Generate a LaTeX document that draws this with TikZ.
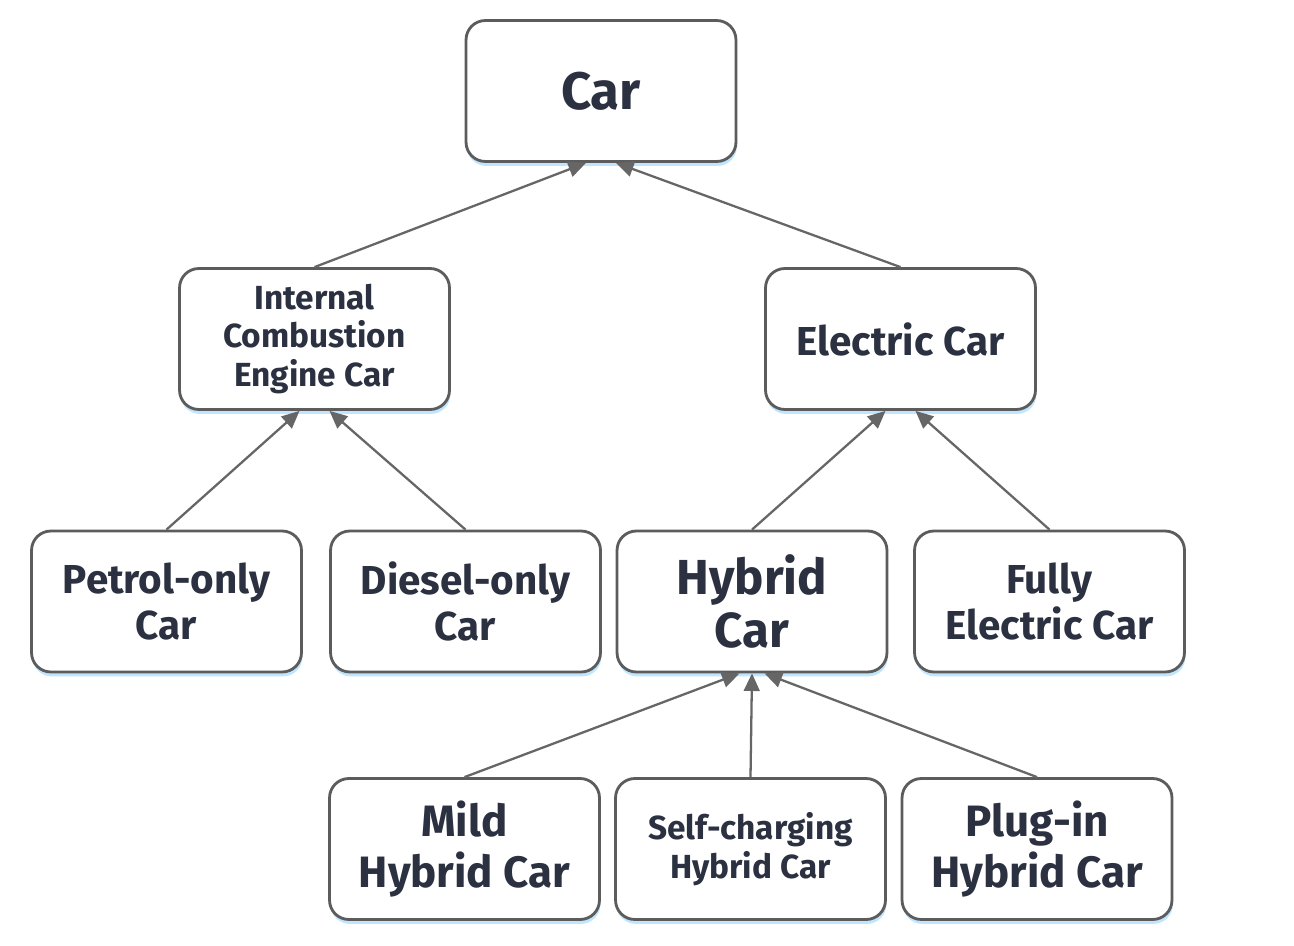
\documentclass[tikz,border=0pt]{standalone}
\usepackage{fontspec}
\setmainfont{Fira Sans}
\usetikzlibrary{arrows.meta,shadows}
\definecolor{txt}{HTML}{2B3140}
\definecolor{edge}{HTML}{666666}
\tikzset{
  box/.style={draw=edge!90!black, line width=1.6pt, rounded corners=11pt, fill=white,
    minimum width=5.4cm, minimum height=2.82cm, align=center, text=txt,
    font=\bfseries, inner sep=2pt,
    drop shadow={shadow xshift=0.5pt, shadow yshift=-2.5pt, fill=blue!40!cyan, opacity=0.25}},
  link/.style={draw=edge, line width=1.3pt, -{Triangle[length=10pt,width=9pt]}}
}
\begin{document}
\begin{tikzpicture}[x=0.02cm, y=-0.02cm]
  \useasboundingbox (0,0) rectangle (1294,946);
  % top level
  \node[box, font=\bfseries\fontsize{30}{34}\selectfont] (car) at (601,91) {Car};
  % second level
  \node[box, font=\bfseries\fontsize{19}{22}\selectfont] (ice) at (314.5,339) {Internal\\Combustion\\Engine Car};
  \node[box, font=\bfseries\fontsize{23}{27}\selectfont] (elec) at (900.5,339) {Electric Car};
  % third level
  \node[box, font=\bfseries\fontsize{23}{26}\selectfont] (petrol) at (166.5,601.5) {Petrol-only\\Car};
  \node[box, font=\bfseries\fontsize{23}{26}\selectfont] (diesel) at (465.5,601.5) {Diesel-only\\Car};
  \node[box, font=\bfseries\fontsize{28}{30}\selectfont] (hybrid) at (752,601.5) {Hybrid\\Car};
  \node[box, font=\bfseries\fontsize{23}{26}\selectfont] (fully) at (1049.5,601.5) {Fully\\Electric Car};
  % fourth level
  \node[box, font=\bfseries\fontsize{25}{29}\selectfont] (mild) at (464.5,849) {Mild\\Hybrid Car};
  \node[box, font=\bfseries\fontsize{19}{22}\selectfont] (self) at (750.5,849) {Self-charging\\Hybrid Car};
  \node[box, font=\bfseries\fontsize{25}{29}\selectfont] (plug) at (1037,849) {Plug-in\\Hybrid Car};
  % links
  \draw[link] (ice.north) -- ([xshift=-0.3cm]car.south);
  \draw[link] (elec.north) -- ([xshift=0.3cm]car.south);
  \draw[link] (petrol.north) -- ([xshift=-0.3cm]ice.south);
  \draw[link] (diesel.north) -- ([xshift=0.3cm]ice.south);
  \draw[link] (hybrid.north) -- ([xshift=-0.3cm]elec.south);
  \draw[link] (fully.north) -- ([xshift=0.3cm]elec.south);
  \draw[link] (mild.north) -- ([xshift=-0.25cm]hybrid.south);
  \draw[link] (self.north) -- (hybrid.south);
  \draw[link] (plug.north) -- ([xshift=0.25cm]hybrid.south);
\end{tikzpicture}
\end{document}
